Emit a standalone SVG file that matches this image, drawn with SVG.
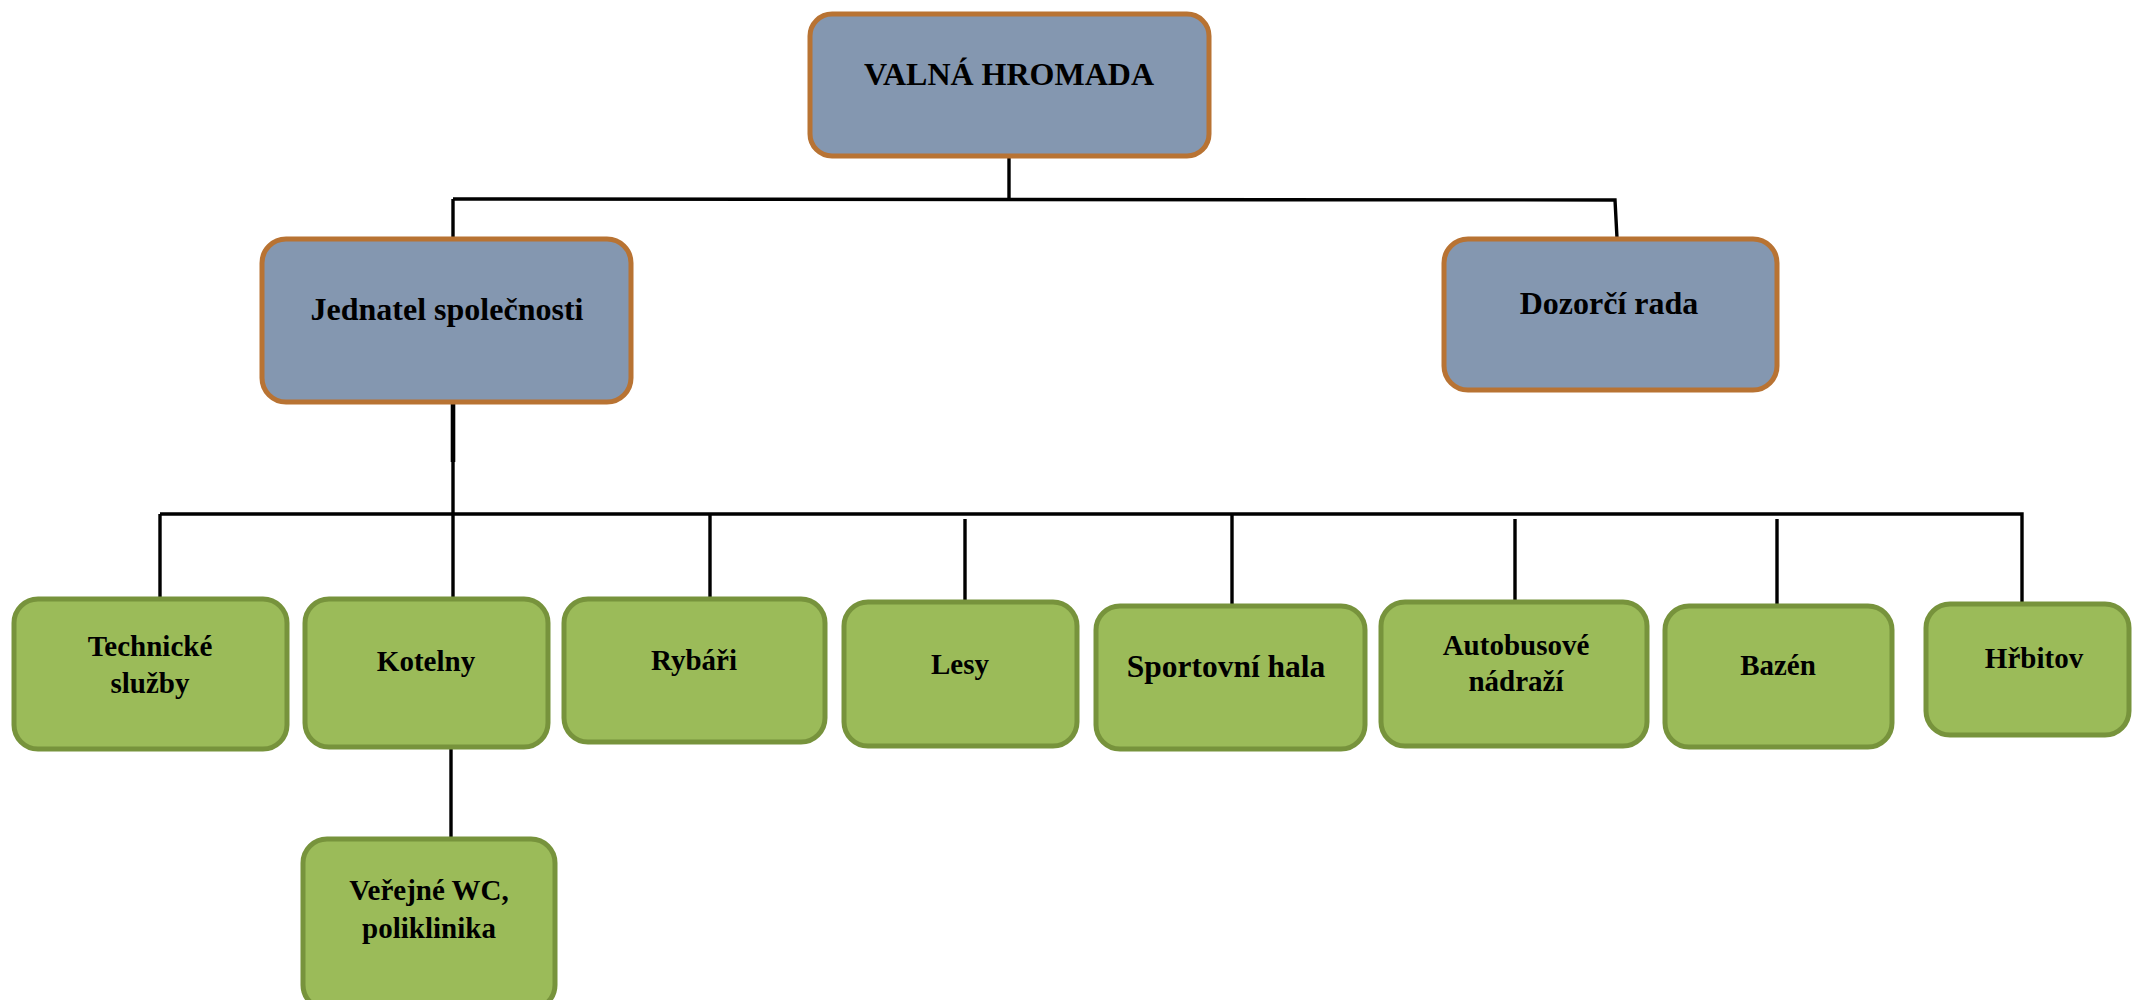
<svg xmlns="http://www.w3.org/2000/svg" width="2132" height="1000" viewBox="0 0 2132 1000">
<style>
.top{fill:#8497B0;stroke:#B87333;stroke-width:5}
.sub{fill:#9BBB59;stroke:#77933C;stroke-width:5}
text{font-family:"Liberation Serif","Times New Roman",serif;font-weight:bold;fill:#000;text-anchor:middle}
.t1{font-size:32px}
.t2{font-size:29px}
.c{stroke:#000;stroke-width:3.4;fill:none}
</style>
<rect width="2132" height="1000" fill="#fff"/>
<g id="connectors">
<path class="c" d="M1009 157V199M453 199L1615 200L1617 238M453 199V239"/>
<path class="c" d="M453 403V598M160 514H2022V603M160 514V598M710 514V598M965 519V601M1232 514V606M1515 519V601M1777 519V606M451 747V839"/>
<path d="M453 403V462" stroke="#000" stroke-width="4.6"/>
</g>
<g id="valna"><rect class="top" x="810" y="14" width="399" height="142" rx="22"/><text class="t1" x="1009" y="85">VALNÁ HROMADA</text></g>
<g id="jednatel"><rect class="top" x="262" y="239" width="369" height="163" rx="24"/><text class="t1" x="447" y="320">Jednatel společnosti</text></g>
<g id="dozorci"><rect class="top" x="1444" y="239" width="333" height="151" rx="24"/><text class="t1" x="1609" y="314">Dozorčí rada</text></g>
<g id="technicke"><rect class="sub" x="14" y="599" width="273" height="150" rx="24"/><text class="t2" x="150" y="656">Technické</text><text class="t2" x="150" y="693">služby</text></g>
<g id="kotelny"><rect class="sub" x="305" y="599" width="243" height="148" rx="24"/><text class="t2" x="426" y="671">Kotelny</text></g>
<g id="rybari"><rect class="sub" x="564" y="599" width="261" height="143" rx="24"/><text class="t2" x="694" y="670">Rybáři</text></g>
<g id="lesy"><rect class="sub" x="844" y="602" width="233" height="144" rx="24"/><text class="t2" x="960" y="674">Lesy</text></g>
<g id="sportovni"><rect class="sub" x="1096" y="606" width="269" height="143" rx="24"/><text x="1226" y="677" style="font-size:31.5px">Sportovní hala</text></g>
<g id="autobusove"><rect class="sub" x="1381" y="602" width="266" height="144" rx="24"/><text class="t2" x="1516" y="655">Autobusové</text><text class="t2" x="1516" y="691">nádraží</text></g>
<g id="bazen"><rect class="sub" x="1665" y="606" width="227" height="141" rx="24"/><text class="t2" x="1778" y="675">Bazén</text></g>
<g id="hrbitov"><rect class="sub" x="1926" y="604" width="203" height="131" rx="24"/><text class="t2" x="2034" y="668">Hřbitov</text></g>
<g id="verejne"><rect class="sub" x="303" y="839" width="252" height="170" rx="24"/><text class="t2" x="429" y="900">Veřejné WC,</text><text class="t2" x="429" y="938">poliklinika</text></g>
</svg>
